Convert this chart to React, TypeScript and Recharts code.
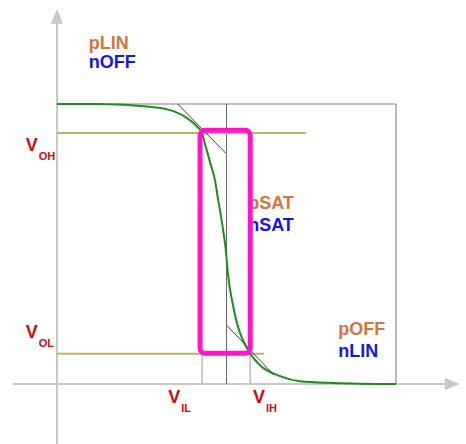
import React from 'react';
import { ComposedChart, Line, XAxis, YAxis, ReferenceLine, ReferenceArea, ReferenceDot } from 'recharts';

// inverter transfer curve, Vin -> Vout (volts)
const vinValues = [0, 0.63, 1.37, 1.67, 1.89, 2.07, 2.14, 2.18, 2.26, 2.33, 2.37, 2.45, 2.49, 2.52, 2.6, 2.67, 2.74, 2.85, 2.99, 3.29, 3.58, 4.07, 5];
const voutValues = [5, 5, 4.95, 4.89, 4.77, 4.59, 4.48, 4.3, 3.95, 3.64, 3.34, 2.75, 2.39, 1.98, 1.38, 1.02, 0.79, 0.54, 0.34, 0.14, 0.05, 0.02, 0];

const VDD = 5;
const VM = 2.5;
const VIL = 2.14;
const VIH = 2.85;
const VOH = 4.48;
const VOL = 0.54;
const vohLineEnd = 3.67;
const volLineEnd = 3.05;

const boxX = [2.11, 2.85];
const boxY = [0.55, 4.53];

const tangentHigh = [{ x: 1.78, y: 5 }, { x: 2.49, y: 4.12 }];
const tangentLow = [{ x: 2.51, y: 1.04 }, { x: 3.2, y: 0.16 }];

const xAxisRange = [-0.65, 5.94];
const yAxisRange = [-1.07, 6.7];

const regionLabels = [
  { text: 'pLIN', x: 0.47, y: 5.98, kind: 'p' },
  { text: 'nOFF', x: 0.47, y: 5.64, kind: 'n' },
  { text: 'pSAT', x: 2.82, y: 3.13, kind: 'p' },
  { text: 'nSAT', x: 2.82, y: 2.73, kind: 'n' },
  { text: 'pOFF', x: 4.15, y: 0.88, kind: 'p' },
  { text: 'nLIN', x: 4.15, y: 0.48, kind: 'n' },
];

const voltLabels = [
  { sub: 'OH', x: -0.46, y: 4.16 },
  { sub: 'OL', x: -0.46, y: 0.82 },
  { sub: 'IL', x: 1.64, y: -0.34 },
  { sub: 'IH', x: 2.89, y: -0.34 },
];

const data = vinValues.map((v, i) => ({ vin: v, vout: voutValues[i] }));

// page layout: where 0..VDD sits in pixels
const W = 466;
const H = 444;
const PX0 = 57;
const PX1 = 396;
const PY0 = 384;
const PY1 = 104;
const sx = (PX1 - PX0) / VDD;
const sy = (PY0 - PY1) / VDD;
const xDomain = [-PX0 / sx, (W - PX0) / sx];
const yDomain = [(PY0 - H) / sy, PY0 / sy];

const FONT = '"Liberation Sans", Arial, sans-serif';
const AXIS = '#c8c8c8';

function Arrow(props: any) {
  const { x1, y1, x2, y2 } = props;
  const horizontal = Math.abs(y2 - y1) < Math.abs(x2 - x1);
  const head = horizontal
    ? `${x2},${y2} ${x2 - 15},${y2 - 6} ${x2 - 15},${y2 + 6}`
    : `${x2},${y2} ${x2 - 6},${y2 + 15} ${x2 + 6},${y2 + 15}`;
  const ex = horizontal ? x2 - 12 : x2;
  const ey = horizontal ? y2 : y2 + 12;
  return (
    <g>
      <line x1={x1} y1={y1} x2={ex} y2={ey} stroke={AXIS} strokeWidth={2} />
      <polygon points={head} fill={AXIS} />
    </g>
  );
}

export default function App() {
  return (
    <div style={{ position: 'absolute', left: 0, top: 0 }}>
      <ComposedChart width={W} height={H} data={data} margin={{ top: 0, right: 0, bottom: 0, left: 0 }}>
        <XAxis dataKey="vin" type="number" domain={xDomain} allowDataOverflow hide />
        <YAxis type="number" domain={yDomain} allowDataOverflow hide />

        <ReferenceLine
          segment={[{ x: xAxisRange[0], y: 0 }, { x: xAxisRange[1], y: 0 }]}
          shape={Arrow}
          zIndex={100}
        />
        <ReferenceLine
          segment={[{ x: 0, y: yAxisRange[0] }, { x: 0, y: yAxisRange[1] }]}
          shape={Arrow}
          zIndex={100}
        />

        <ReferenceLine segment={[{ x: 0, y: VDD }, { x: VDD, y: VDD }]} stroke="#aaaaaa" strokeWidth={1.5} zIndex={150} />
        <ReferenceLine segment={[{ x: VDD, y: 0 }, { x: VDD, y: VDD }]} stroke="#777777" strokeWidth={1} zIndex={150} />
        <ReferenceLine segment={[{ x: VM, y: 0 }, { x: VM, y: VDD }]} stroke="#666666" strokeWidth={1} zIndex={150} />
        <ReferenceLine segment={[{ x: VIL, y: 0 }, { x: VIL, y: VOL }]} stroke="#bbbbbb" strokeWidth={1.5} zIndex={150} />
        <ReferenceLine segment={[{ x: VIH, y: 0 }, { x: VIH, y: VOL }]} stroke="#bbbbbb" strokeWidth={1.5} zIndex={150} />
        <ReferenceLine segment={[{ x: 0, y: VOH }, { x: vohLineEnd, y: VOH }]} stroke="#b8b46c" strokeWidth={2} zIndex={150} />
        <ReferenceLine segment={[{ x: 0, y: VOL }, { x: volLineEnd, y: VOL }]} stroke="#b8b46c" strokeWidth={2} zIndex={150} />

        <Line
          dataKey="vout"
          type="monotone"
          stroke="#1e8c1e"
          strokeWidth={2}
          dot={false}
          activeDot={false}
          isAnimationActive={false}
          zIndex={400}
        />

        <ReferenceLine segment={tangentHigh} stroke="#444444" strokeWidth={1} zIndex={450} />
        <ReferenceLine segment={tangentLow} stroke="#444444" strokeWidth={1} zIndex={450} />

        {regionLabels.map((l) => (
          <ReferenceDot
            key={l.text}
            x={l.x}
            y={l.y}
            r={0}
            zIndex={500}
            shape={(p: any) => (
              <text
                x={p.cx}
                y={p.cy}
                fontFamily={FONT}
                fontWeight="bold"
                fontSize={18}
                fill={l.kind === 'p' ? '#d4743e' : '#1414f0'}
              >
                {l.text}
              </text>
            )}
          />
        ))}

        {voltLabels.map((l) => (
          <ReferenceDot
            key={l.sub}
            x={l.x}
            y={l.y}
            r={0}
            zIndex={500}
            shape={(p: any) => (
              <text x={p.cx} y={p.cy} fontFamily={FONT} fontWeight="bold" fill="#cc0a14">
                <tspan fontSize={18}>V</tspan>
                <tspan fontSize={11} dx={1} dy={9}>{l.sub}</tspan>
              </text>
            )}
          />
        ))}

        <ReferenceArea
          x1={boxX[0]}
          x2={boxX[1]}
          y1={boxY[0]}
          y2={boxY[1]}
          zIndex={600}
          shape={(p: any) => (
            <rect
              x={p.x}
              y={p.y}
              width={p.width}
              height={p.height}
              rx={5}
              ry={5}
              fill="none"
              stroke="#ff14c8"
              strokeWidth={5}
            />
          )}
        />
      </ComposedChart>
    </div>
  );
}
